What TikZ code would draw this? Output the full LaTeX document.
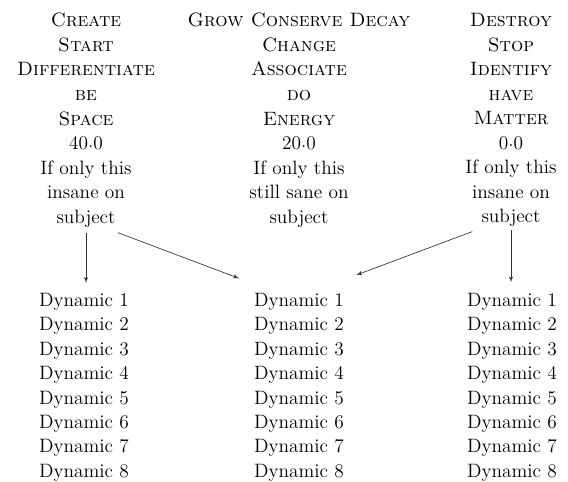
\documentclass[tikz,border=0pt]{standalone}
\usepackage{tikz}
\usetikzlibrary{arrows}
\newcommand{\pdot}{\raisebox{0.3ex}{.}}
\tikzstyle{heading} = [inner sep=0pt, anchor=north, align=center,
    font=\fontsize{14.5}{18.4}\selectfont]
\tikzstyle{dynlist} = [inner sep=0pt, anchor=north, align=left,
    font=\fontsize{14.5}{18.3}\selectfont]
\tikzstyle{arrow} = [draw, black!80, line width=0.5pt, -latex']

\begin{document}
\begin{tikzpicture}[x=0.75pt,y=-0.75pt]
    \useasboundingbox (0,0) rectangle (568,482);
    % the three columns
    \node[heading] (colA) at (86,13) {\textsc{Create}\\ \textsc{Start}\\
      \textsc{Differentiate}\\ \textsc{be}\\ \textsc{Space}\\ 40\pdot0\\
      If only this\\ insane on\\ subject};
    \node[heading] (colB) at (299,13) {\textsc{Grow Conserve Decay}\\
      \textsc{Change}\\ \textsc{Associate}\\ \textsc{do}\\ \textsc{Energy}\\
      20\pdot0\\ If only this\\ still sane on\\ subject};
    \node[heading] (colC) at (511,13) {\textsc{Destroy}\\ \textsc{Stop}\\
      \textsc{Identify}\\ \textsc{have}\\ \textsc{Matter}\\ 0\pdot0\\
      If only this\\ insane on\\ subject};
    % dynamics
    \node[dynlist] (dynA) at (84,293) {Dynamic 1\\ Dynamic 2\\ Dynamic 3\\
      Dynamic 4\\ Dynamic 5\\ Dynamic 6\\ Dynamic 7\\ Dynamic 8};
    \node[dynlist] (dynB) at (299,293) {Dynamic 1\\ Dynamic 2\\ Dynamic 3\\
      Dynamic 4\\ Dynamic 5\\ Dynamic 6\\ Dynamic 7\\ Dynamic 8};
    \node[dynlist] (dynC) at (512,293) {Dynamic 1\\ Dynamic 2\\ Dynamic 3\\
      Dynamic 4\\ Dynamic 5\\ Dynamic 6\\ Dynamic 7\\ Dynamic 8};
    % arrows
    \draw[arrow] ([yshift=-4pt]colA.south) -- ([yshift=7.5pt]colA.south |- dynA.north);
    \draw[arrow] ([xshift=24pt,yshift=-4pt]colA.south) -- ([xshift=-45pt,yshift=11pt]dynB.north);
    \draw[arrow] ([xshift=-29pt,yshift=-3.5pt]colC.south) -- ([xshift=43pt,yshift=13.5pt]dynB.north);
    \draw[arrow] ([yshift=-2pt]colC.south) -- ([yshift=8pt]colC.south |- dynC.north);
\end{tikzpicture}
\end{document}
